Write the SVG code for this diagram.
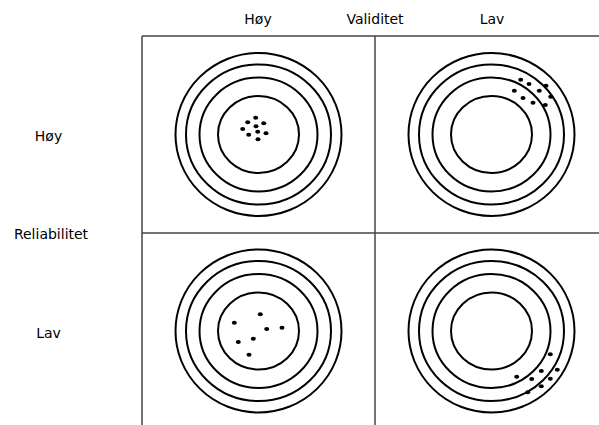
<svg xmlns="http://www.w3.org/2000/svg" width="599" height="425" viewBox="0 0 599 425">
<style>
text{font-family:"DejaVu Sans",Verdana,sans-serif;font-size:14px;fill:#000;text-anchor:middle}
.grid{stroke:#444;stroke-width:1.5;fill:none}
.ring{stroke:#000;stroke-width:2;fill:none}
.dot{fill:#000}
</style>
<defs>
<g id="target">
<ellipse class="ring" cx="0" cy="0" rx="83" ry="81.5"/>
<ellipse class="ring" cx="0" cy="0" rx="72.5" ry="70"/>
<ellipse class="ring" cx="0" cy="0" rx="59" ry="57"/>
<ellipse class="ring" cx="0" cy="0" rx="40.5" ry="38.5"/>
</g>
</defs>
<rect width="599" height="425" fill="#fff"/>
<g id="labels">
<text x="258" y="24">Høy</text>
<text x="375" y="24">Validitet</text>
<text x="492" y="24">Lav</text>
<text x="48.5" y="141">Høy</text>
<text x="51" y="239">Reliabilitet</text>
<text x="48.5" y="338">Lav</text>
</g>
<g id="connectors">
<line class="grid" x1="142" y1="36" x2="599" y2="36"/>
<line class="grid" x1="142" y1="36" x2="142" y2="425"/>
<line class="grid" x1="375" y1="36" x2="375" y2="425"/>
<line class="grid" x1="142" y1="233" x2="599" y2="233"/>
</g>
<g id="target-high-high">
<use href="#target" x="258.5" y="134.5"/>
<g class="dot">
<ellipse cx="247.7" cy="122.3" rx="2.5" ry="2"/>
<ellipse cx="255.7" cy="117.7" rx="2.5" ry="2"/>
<ellipse cx="263.7" cy="123.3" rx="2.5" ry="2"/>
<ellipse cx="242.7" cy="129" rx="2.5" ry="2"/>
<ellipse cx="256" cy="126.3" rx="2.5" ry="2"/>
<ellipse cx="257.7" cy="131.7" rx="2.5" ry="2"/>
<ellipse cx="266" cy="133.3" rx="2.5" ry="2"/>
<ellipse cx="248.7" cy="134.7" rx="2.5" ry="2"/>
<ellipse cx="258" cy="139.3" rx="2.5" ry="2"/>
</g>
</g>
<g id="target-high-low">
<use href="#target" x="491.5" y="134.5"/>
<g class="dot">
<ellipse cx="520.7" cy="79.7" rx="2.5" ry="2"/>
<ellipse cx="529" cy="84" rx="2.5" ry="2"/>
<ellipse cx="546" cy="85.7" rx="2.5" ry="2"/>
<ellipse cx="514.3" cy="90.7" rx="2.5" ry="2"/>
<ellipse cx="539.3" cy="90.7" rx="2.5" ry="2"/>
<ellipse cx="550.7" cy="96.7" rx="2.5" ry="2"/>
<ellipse cx="523" cy="98" rx="2.5" ry="2"/>
<ellipse cx="533" cy="102.7" rx="2.5" ry="2"/>
<ellipse cx="545.3" cy="105" rx="2.5" ry="2"/>
</g>
</g>
<g id="target-low-high">
<use href="#target" x="258.5" y="331"/>
<g class="dot">
<ellipse cx="260.3" cy="314.3" rx="2.5" ry="2"/>
<ellipse cx="234.3" cy="322.7" rx="2.5" ry="2"/>
<ellipse cx="266.7" cy="329" rx="2.5" ry="2"/>
<ellipse cx="282" cy="327.7" rx="2.5" ry="2"/>
<ellipse cx="253.3" cy="338.7" rx="2.5" ry="2"/>
<ellipse cx="238.3" cy="342" rx="2.5" ry="2"/>
<ellipse cx="249" cy="354.7" rx="2.5" ry="2"/>
</g>
</g>
<g id="target-low-low">
<use href="#target" x="491.5" y="331"/>
<g class="dot">
<ellipse cx="550.3" cy="354.3" rx="2.5" ry="2"/>
<ellipse cx="557.3" cy="369.7" rx="2.5" ry="2"/>
<ellipse cx="541.3" cy="371" rx="2.5" ry="2"/>
<ellipse cx="516.7" cy="376.7" rx="2.5" ry="2"/>
<ellipse cx="531.7" cy="379" rx="2.5" ry="2"/>
<ellipse cx="550.3" cy="378.7" rx="2.5" ry="2"/>
<ellipse cx="541.3" cy="386.3" rx="2.5" ry="2"/>
<ellipse cx="527.7" cy="392.3" rx="2.5" ry="2"/>
</g>
</g>
</svg>
